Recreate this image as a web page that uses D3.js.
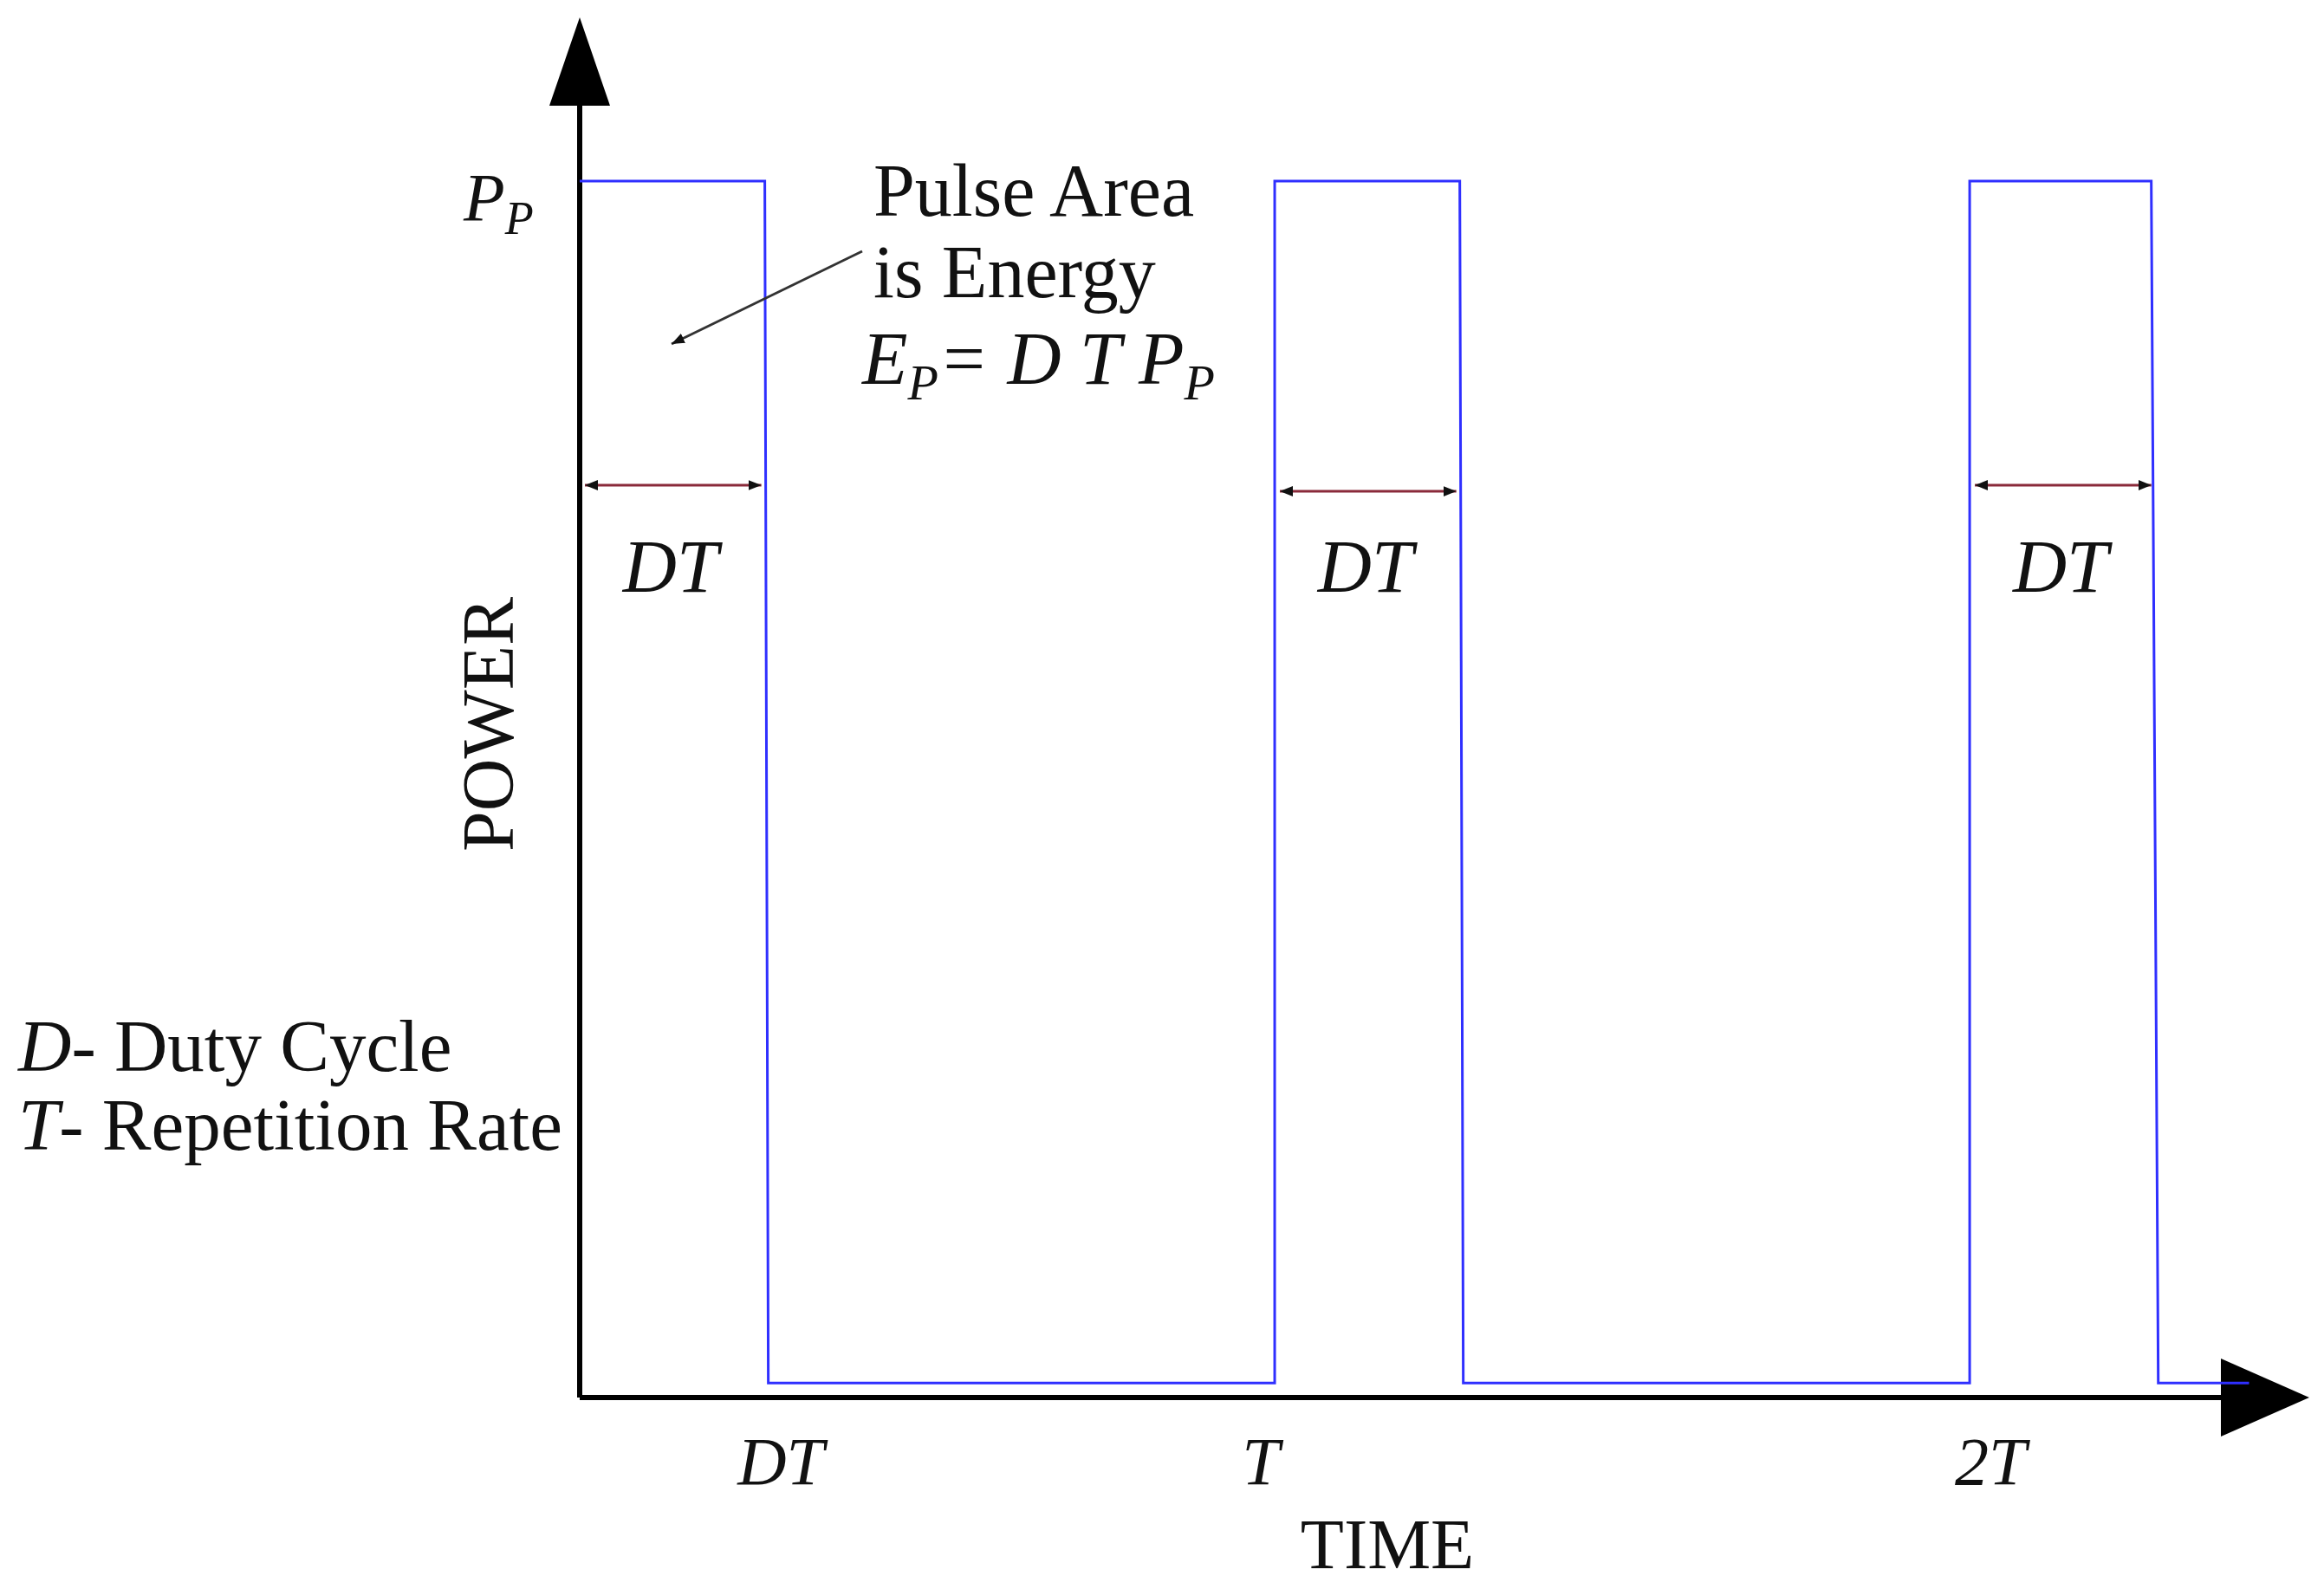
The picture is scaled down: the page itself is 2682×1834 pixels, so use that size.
<!DOCTYPE html>
<html>
<head>
<meta charset="UTF-8">
<script src="https://cdn.jsdelivr.net/npm/d3@7"></script>
<style>
body{margin:0;background:#fff;}
text{font-family:"Liberation Serif","Times New Roman",serif;fill:#111;}
.it{font-style:italic;}
</style>
</head>
<body>
<div id="chart"></div>
<script>
// pulse train, time in units of T, power in units of Pp
var times = [0, 0, 0.265, 0.27, 0.995, 0.995, 1.26, 1.265, 1.99, 1.99, 2.25, 2.26, 2.39];
var power = [1, 1, 1, 0.012, 0.012, 1, 1, 0.012, 0.012, 1, 1, 0.012, 0.012];
var tickVals = [0.288, 0.975, 2.02];
var tickLabels = ["DT", "T", "2T"];
var dtStart = [0, 0.995, 1.99];
var dtLevel = [0.75, 0.745, 0.75];

var width = 2682, height = 1834;
var x = d3.scaleLinear().domain([0, 2.47]).range([669, 2660]);
var y = d3.scaleLinear().domain([0, 1]).range([1613, 209]);

var svg = d3.select("#chart").append("svg").attr("width", width).attr("height", height);

//軸
svg.append("line").attr("x1", x(0)).attr("y1", y(0)).attr("x2", x(0)).attr("y2", 90)
  .attr("stroke", "#000").attr("stroke-width", 6);
svg.append("path").attr("d", "M669,20 L634,122 L704,122 Z").attr("fill", "#000");
svg.append("line").attr("x1", x(0)).attr("y1", y(0)).attr("x2", 2590).attr("y2", y(0))
  .attr("stroke", "#000").attr("stroke-width", 6);
svg.append("path").attr("d", "M2665,1613 L2563,1568 L2563,1658 Z").attr("fill", "#000");

//パルス
var line = d3.line().x(function(d, i){ return x(times[i]); }).y(function(d){ return y(d); });
svg.append("path").attr("d", line(power)).attr("fill", "none")
  .attr("stroke", "#2f2fff").attr("stroke-width", 3);

//目盛ラベル
svg.selectAll("text.tick").data(tickVals).enter().append("text")
  .attr("class", "it tick").attr("x", function(d){ return x(d); }).attr("y", 1713)
  .attr("text-anchor", "middle").attr("font-size", 78)
  .text(function(d, i){ return tickLabels[i]; });

svg.append("text").attr("x", 1601).attr("y", 1810).attr("text-anchor", "middle")
  .attr("font-size", 82).text("TIME");
svg.append("text").attr("transform", "translate(592,836) rotate(-90)").attr("text-anchor", "middle")
  .attr("font-size", 84).text("POWER");

var pp = svg.append("text").attr("class", "it").attr("x", 535).attr("y", 254).attr("font-size", 78);
pp.append("tspan").text("P");
pp.append("tspan").attr("dy", 16).attr("font-size", 54).text("P");

//DT矢印
var defs = svg.append("defs");
["s", "e"].forEach(function(k){
  defs.append("marker").attr("id", "ah" + k).attr("viewBox", "0 0 10 10")
    .attr("refX", k == "e" ? 10 : 0).attr("refY", 5).attr("markerWidth", 5).attr("markerHeight", 5)
    .attr("orient", "auto").append("path")
    .attr("d", k == "e" ? "M0,1 L10,5 L0,9 Z" : "M10,1 L0,5 L10,9 Z").attr("fill", "#111");
});
dtStart.forEach(function(s, i){
  svg.append("line").attr("x1", x(s) + 6).attr("x2", x(s + 0.265) - 4)
    .attr("y1", y(dtLevel[i])).attr("y2", y(dtLevel[i]))
    .attr("stroke", "#8a2a3a").attr("stroke-width", 3)
    .attr("marker-start", "url(#ahs)").attr("marker-end", "url(#ahe)");
  svg.append("text").attr("class", "it").attr("x", x(s + 0.13)).attr("y", 683)
    .attr("text-anchor", "middle").attr("font-size", 86).text("DT");
});

//注記
svg.append("text").attr("x", 1008).attr("y", 249).attr("font-size", 86).text("Pulse Area");
svg.append("text").attr("x", 1008).attr("y", 343).attr("font-size", 86).text("is Energy");
var ep = svg.append("text").attr("class", "it").attr("x", 995).attr("y", 443).attr("font-size", 86);
ep.append("tspan").text("E");
ep.append("tspan").attr("dy", 18).attr("font-size", 58).text("P");
ep.append("tspan").attr("dy", -18).text("= D T P");
ep.append("tspan").attr("dy", 18).attr("font-size", 58).text("P");
svg.append("line").attr("x1", 995).attr("y1", 290).attr("x2", 775).attr("y2", 397)
  .attr("stroke", "#333").attr("stroke-width", 3).attr("marker-end", "url(#ahe)");

//凡例
var l1 = svg.append("text").attr("x", 21).attr("y", 1236).attr("font-size", 85);
l1.append("tspan").attr("class", "it").text("D");
l1.append("tspan").text("- Duty Cycle");
var l2 = svg.append("text").attr("x", 21).attr("y", 1327).attr("font-size", 85);
l2.append("tspan").attr("class", "it").text("T");
l2.append("tspan").text("- Repetition Rate");
</script>
</body>
</html>
